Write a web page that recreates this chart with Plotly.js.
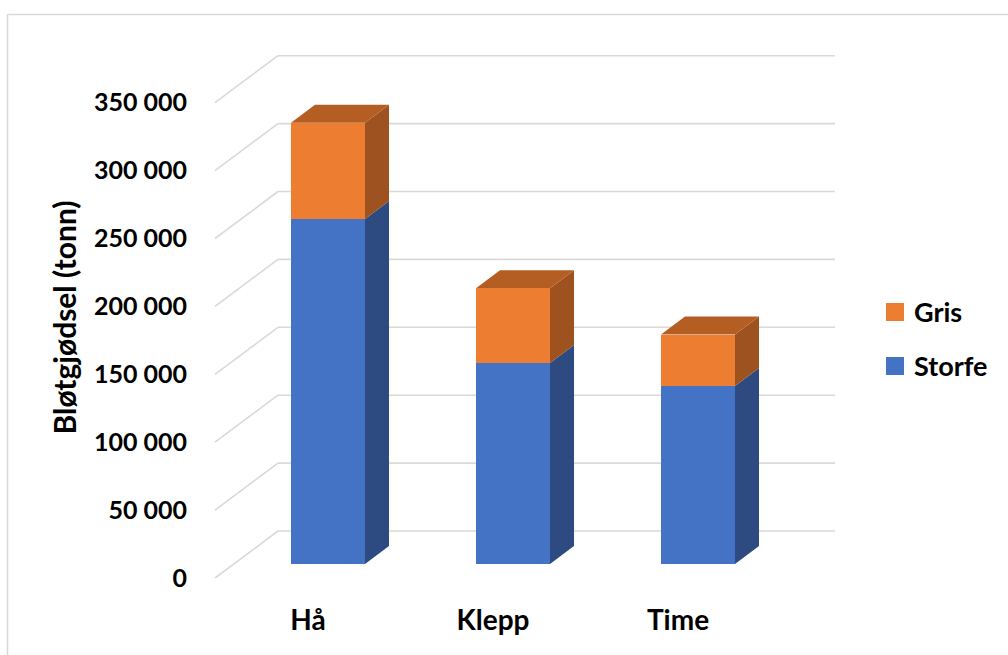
<!DOCTYPE html>
<html>
<head>
<meta charset="utf-8">
<script src="https://cdn.plot.ly/plotly-3.0.1.min.js"></script>
<style>html,body{margin:0;padding:0;background:#fff;}#chart{width:1008px;height:655px;}</style>
</head>
<body>
<div id="chart"></div>
<script>
// ---- data ----
const categories = ['Hå', 'Klepp', 'Time'];
const storfe = [254000, 148000, 131000];
const gris = [71000, 55000, 38000];
const yTicks = [0, 50000, 100000, 150000, 200000, 250000, 300000, 350000];
const seriesNames = ['Storfe', 'Gris'];

// ---- geometry (pixels) ----
const W = 1008, H = 655;
const L = 200, R = 850, T = 45, B = 590;
const X0PX = 328, XSTEP = 185;          // bar-front-plane pixel of category 0, spacing
const Y0PX = 564, KPX = 1.358 / 1000;   // bar-front-plane pixel of value 0, px per unit
const ux = px => px / XSTEP;
const uy = px => px / KPX;
const xRange = [(L - X0PX) / XSTEP, (R - X0PX) / XSTEP];
const yRange = [(Y0PX - B) / KPX, (Y0PX - T) / KPX];
const barW = 0.4;
const depthX = ux(24), depthY = uy(18);
const wallX0 = (278 - X0PX) / XSTEP, wallX1 = (835 - X0PX) / XSTEP, wallDY = uy(33);
const frontX = (215 - X0PX) / XSTEP, frontDY = -uy(14);

const colors = {
  storfe: '#4472C4', storfeSide: '#2D4B80',
  gris: '#ED7D31', grisSide: '#9D5220', grisTop: '#B55E23'
};

const xs = categories.map((c, i) => i);
const shapes = [];
const annotations = [];

yTicks.forEach(v => {
  shapes.push({type: 'line', xref: 'x', yref: 'y', layer: 'below',
    x0: wallX0, x1: wallX1, y0: v + wallDY, y1: v + wallDY,
    line: {color: '#D9D9D9', width: 1.6}});
  shapes.push({type: 'line', xref: 'x', yref: 'y', layer: 'below',
    x0: frontX, x1: wallX0, y0: v + frontDY, y1: v + wallDY,
    line: {color: '#D9D9D9', width: 1.6}});
});

function poly(pts, color) {
  const p = pts.map((q, i) => (i ? 'L' : 'M') + q[0] + ',' + q[1]).join(' ') + ' Z';
  shapes.push({type: 'path', xref: 'x', yref: 'y', layer: 'below', path: p,
    fillcolor: color, line: {width: 0}});
}

xs.forEach(i => {
  const r = i + barW / 2, l = i - barW / 2;
  const segs = [[0, storfe[i], colors.storfeSide], [storfe[i], storfe[i] + gris[i], colors.grisSide]];
  segs.forEach(s => {
    poly([[r, s[0]], [r + depthX, s[0] + depthY], [r + depthX, s[1] + depthY], [r, s[1]]], s[2]);
  });
  const t = storfe[i] + gris[i];
  poly([[l, t], [l + depthX, t + depthY], [r + depthX, t + depthY], [r, t]], colors.grisTop);
});

const px2paperX = px => (px - L) / (R - L);
const px2paperY = py => (B - py) / (B - T);
shapes.push({type: 'line', xref: 'paper', yref: 'paper',
  x0: px2paperX(7.5), x1: px2paperX(7.5), y0: px2paperY(14.5), y1: px2paperY(H + 5),
  line: {color: '#D9D9D9', width: 1.5}});
shapes.push({type: 'line', xref: 'paper', yref: 'paper',
  x0: px2paperX(7.5), x1: px2paperX(W + 5), y0: px2paperY(14.5), y1: px2paperY(14.5),
  line: {color: '#D9D9D9', width: 1.5}});

const font = {family: 'Lato, "Open Sans", sans-serif', color: '#000'};
const boldFont = size => Object.assign({size: size, weight: 'bold'}, font);

// legend (Gris on top, Storfe below)
const legendItems = [[seriesNames[1], colors.gris, 312], [seriesNames[0], colors.storfe, 366]];
legendItems.forEach(it => {
  shapes.push({type: 'rect', xref: 'paper', yref: 'paper',
    x0: px2paperX(886), x1: px2paperX(904), y0: px2paperY(it[2] - 9), y1: px2paperY(it[2] + 9),
    fillcolor: it[1], line: {width: 0}});
  annotations.push({xref: 'paper', yref: 'paper', x: px2paperX(912), y: px2paperY(it[2] - 1),
    xanchor: 'left', yanchor: 'middle', text: it[0], showarrow: false, font: boldFont(27)});
});

const traces = [
  {type: 'bar', name: seriesNames[0], x: xs, y: storfe, width: barW,
   marker: {color: colors.storfe}, hoverinfo: 'skip', showlegend: false},
  {type: 'bar', name: seriesNames[1], x: xs, y: gris, width: barW,
   marker: {color: colors.gris}, hoverinfo: 'skip', showlegend: false}
];

const layout = {
  width: W, height: H,
  margin: {l: L, r: W - R, t: T, b: H - B, pad: 0},
  paper_bgcolor: '#fff', plot_bgcolor: 'rgba(0,0,0,0)',
  barmode: 'stack',
  separators: ', ',
  font: boldFont(26),
  showlegend: false,
  xaxis: {range: xRange, tickvals: xs, ticktext: categories,
    showgrid: false, zeroline: false, showline: false, ticks: '',
    ticklabelshift: -20, ticklabelstandoff: 11,
    tickfont: boldFont(28), fixedrange: true},
  yaxis: {range: yRange, tickvals: yTicks, tickformat: ',d',
    showgrid: false, zeroline: false, showline: false, ticks: '',
    ticklabelshift: 14, ticklabelstandoff: 12,
    tickfont: boldFont(25),
    title: {text: 'Bløtgjødsel (tonn)', standoff: 8, font: boldFont(30)}, fixedrange: true},
  shapes: shapes,
  annotations: annotations
};

Plotly.newPlot('chart', traces, layout, {displayModeBar: false, staticPlot: true});
</script>
</body>
</html>
